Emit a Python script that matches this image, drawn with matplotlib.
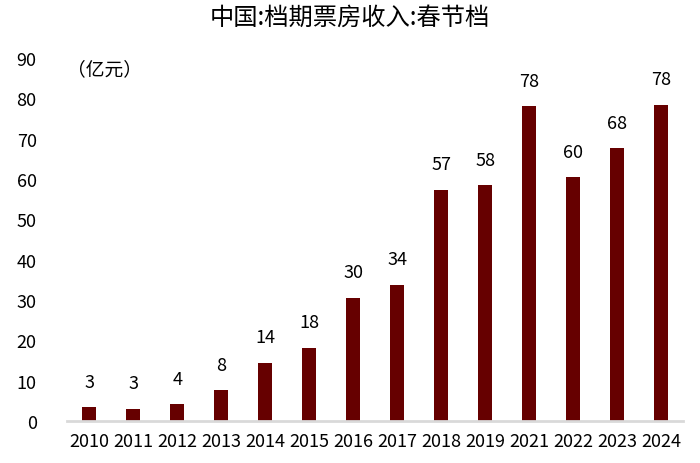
import matplotlib.pyplot as plt

plt.rcParams['font.family'] = ['Noto Sans CJK SC', 'DejaVu Sans']

# data
years = ['2010', '2011', '2012', '2013', '2014', '2015', '2016', '2017',
         '2018', '2019', '2021', '2022', '2023', '2024']
revenue = [3.4, 3.1, 4.1, 7.6, 14.4, 18.1, 30.5, 33.7,
           57.3, 58.4, 78.0, 60.4, 67.6, 78.4]

fig = plt.figure(figsize=(7, 4.64), dpi=100)
ax = fig.add_axes([0.096, 0.0905, 0.88, 0.7825])

x = range(len(years))
bars = ax.bar(x, revenue, width=0.32, color='#660000')
for xi, v in zip(x, revenue):
    ax.annotate(f'{v:.0f}', (xi, v), xytext=(0, 12), textcoords='offset points',
                ha='center', va='bottom', fontsize=13)

ax.set_xlim(-0.5, len(years) - 0.5)
ax.set_ylim(0, 90)
ax.set_yticks(range(0, 91, 10))
ax.set_xticks(list(x))
ax.set_xticklabels(years)
ax.tick_params(axis='both', length=0, labelsize=13)
ax.tick_params(axis='y', pad=22)
ax.tick_params(axis='x', pad=8)
for s in ['top', 'right', 'left']:
    ax.spines[s].set_visible(False)
ax.spines['bottom'].set_color('#d9d9d9')
ax.spines['bottom'].set_linewidth(2)

ax.text(0.0, 0.97, '（亿元）', transform=ax.transAxes, fontsize=13.5, va='center', ha='left')
fig.suptitle('中国:档期票房收入:春节档', x=0.5, y=0.99, fontsize=17.5)

fig.savefig('out.png')
